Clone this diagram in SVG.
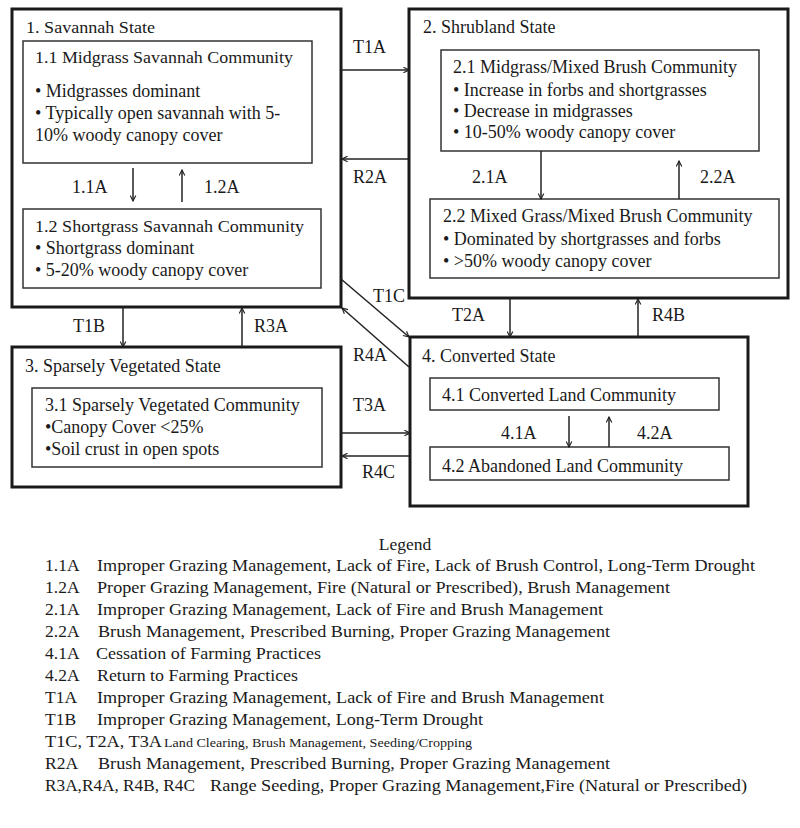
<svg xmlns="http://www.w3.org/2000/svg" width="800" height="828" viewBox="0 0 800 828">
<defs>
<marker id="ah" viewBox="0 0 10 10" refX="9" refY="5" markerWidth="7" markerHeight="7" markerUnits="userSpaceOnUse" orient="auto">
<path d="M1,1 L9,5 L1,9" fill="none" stroke="#222" stroke-width="1.6"/>
</marker>
</defs>
<style>
text{font-family:"Liberation Serif","Times New Roman",serif;fill:#1a1a1a}
.st{font-size:18px}
.st1{font-size:17.5px}
.c{font-size:18px}
.c1{font-size:17.5px}
.lb{font-size:18px}
.lg{font-size:17.5px}
.sm{font-size:13px}
.outer{fill:#fff;stroke:#1a1a1a;stroke-width:3}
.inner{fill:#fff;stroke:#333;stroke-width:1.5}
.con line{stroke:#222;stroke-width:1.5;marker-end:url(#ah)}
</style>
<rect width="800" height="828" fill="#fff"/>

<g id="state1">
<rect class="outer" x="12" y="9" width="329" height="298"/>
<text class="st1" x="26" y="33" textLength="129" lengthAdjust="spacingAndGlyphs">1. Savannah State</text>
</g>
<g id="c11">
<rect class="inner" x="23" y="41" width="289" height="122"/>
<text class="c1" x="35" y="63" textLength="258" lengthAdjust="spacingAndGlyphs">1.1 Midgrass Savannah Community</text>
<text class="c" x="35" y="97">• Midgrasses dominant</text>
<text class="c" x="35" y="119">• Typically open savannah with 5-</text>
<text class="c" x="35" y="141">10% woody canopy cover</text>
</g>
<g id="c12">
<rect class="inner" x="23" y="209" width="298" height="79"/>
<text class="c1" x="35" y="232" textLength="269" lengthAdjust="spacingAndGlyphs">1.2 Shortgrass Savannah Community</text>
<text class="c" x="35" y="254">• Shortgrass dominant</text>
<text class="c" x="35" y="276">• 5-20% woody canopy cover</text>
</g>

<g id="state2">
<rect class="outer" x="409" y="9" width="379" height="289"/>
<text class="st" x="423" y="33">2. Shrubland State</text>
</g>
<g id="c21">
<rect class="inner" x="441" y="50" width="318" height="101"/>
<text class="c" x="453" y="73">2.1 Midgrass/Mixed Brush Community</text>
<text class="c" x="453" y="96">• Increase in forbs and shortgrasses</text>
<text class="c" x="453" y="117">• Decrease in midgrasses</text>
<text class="c" x="453" y="138">• 10-50% woody canopy cover</text>
</g>
<g id="c22">
<rect class="inner" x="430" y="199" width="349" height="79"/>
<text class="c" x="443" y="222">2.2 Mixed Grass/Mixed Brush Community</text>
<text class="c" x="443" y="245">• Dominated by shortgrasses and forbs</text>
<text class="c" x="443" y="267">• &gt;50% woody canopy cover</text>
</g>

<g id="state3">
<rect class="outer" x="12" y="347" width="329" height="140"/>
<text class="st" x="25" y="372">3. Sparsely Vegetated State</text>
</g>
<g id="c31">
<rect class="inner" x="32" y="388" width="290" height="79"/>
<text class="c" x="45" y="411">3.1 Sparsely Vegetated Community</text>
<text class="c" x="45" y="433">•Canopy Cover &lt;25%</text>
<text class="c" x="45" y="455">•Soil crust in open spots</text>
</g>

<g id="state4">
<rect class="outer" x="410" y="337" width="338" height="169"/>
<text class="st" x="422" y="362">4. Converted State</text>
</g>
<g id="c41">
<rect class="inner" x="430" y="378" width="289" height="32"/>
<text class="c" x="442" y="401">4.1 Converted Land Community</text>
</g>
<g id="c42">
<rect class="inner" x="430" y="447" width="299" height="33"/>
<text class="c" x="442" y="472">4.2 Abandoned Land Community</text>
</g>

<g id="connectors" class="con">
<line x1="341" y1="70" x2="409" y2="70"/>
<line x1="409" y1="159" x2="342" y2="159"/>
<line x1="133" y1="168" x2="133" y2="201"/>
<line x1="182" y1="202" x2="182" y2="170"/>
<line x1="541" y1="151" x2="541" y2="199"/>
<line x1="679" y1="199" x2="679" y2="161"/>
<line x1="341" y1="279" x2="409" y2="337"/>
<line x1="409" y1="367" x2="342" y2="308"/>
<line x1="123" y1="307" x2="123" y2="347"/>
<line x1="242" y1="347" x2="242" y2="308"/>
<line x1="510" y1="298" x2="510" y2="337"/>
<line x1="638" y1="337" x2="638" y2="299"/>
<line x1="341" y1="433" x2="410" y2="433"/>
<line x1="410" y1="456" x2="342" y2="456"/>
<line x1="569" y1="416" x2="569" y2="447"/>
<line x1="609" y1="447" x2="609" y2="417"/>
</g>

<g id="connector-labels">
<text class="lb" x="353" y="53">T1A</text>
<text class="lb" x="353" y="183">R2A</text>
<text class="lb" x="72" y="193">1.1A</text>
<text class="lb" x="204" y="193">1.2A</text>
<text class="lb" x="472" y="183">2.1A</text>
<text class="lb" x="700" y="183">2.2A</text>
<text class="lb" x="373" y="302">T1C</text>
<text class="lb" x="353" y="361">R4A</text>
<text class="lb" x="73" y="332">T1B</text>
<text class="lb" x="254" y="332">R3A</text>
<text class="lb" x="452" y="321">T2A</text>
<text class="lb" x="652" y="321">R4B</text>
<text class="lb" x="353" y="411">T3A</text>
<text class="lb" x="362" y="478">R4C</text>
<text class="lb" x="501" y="439">4.1A</text>
<text class="lb" x="637" y="439">4.2A</text>
</g>

<g id="legend" class="lg">
<text class="lg" x="405" y="550" text-anchor="middle">Legend</text>
<text class="lg" x="45" y="571">1.1A</text>
<text class="lg" x="97" y="571" textLength="658" lengthAdjust="spacingAndGlyphs">Improper Grazing Management, Lack of Fire, Lack of Brush Control, Long-Term Drought</text>
<text class="lg" x="45" y="593">1.2A</text>
<text class="lg" x="97" y="593" textLength="573" lengthAdjust="spacingAndGlyphs">Proper Grazing Management, Fire (Natural or Prescribed), Brush Management</text>
<text class="lg" x="45" y="615">2.1A</text>
<text class="lg" x="97" y="615" textLength="506" lengthAdjust="spacingAndGlyphs">Improper Grazing Management, Lack of Fire and Brush Management</text>
<text class="lg" x="45" y="637">2.2A</text>
<text class="lg" x="98" y="637" textLength="512" lengthAdjust="spacingAndGlyphs">Brush Management, Prescribed Burning, Proper Grazing Management</text>
<text class="lg" x="45" y="659">4.1A</text>
<text class="lg" x="96" y="659" textLength="225" lengthAdjust="spacingAndGlyphs">Cessation of Farming Practices</text>
<text class="lg" x="45" y="681">4.2A</text>
<text class="lg" x="97" y="681" textLength="201" lengthAdjust="spacingAndGlyphs">Return to Farming Practices</text>
<text class="lg" x="45" y="703">T1A</text>
<text class="lg" x="97" y="703" textLength="507" lengthAdjust="spacingAndGlyphs">Improper Grazing Management, Lack of Fire and Brush Management</text>
<text class="lg" x="45" y="725">T1B</text>
<text class="lg" x="97" y="725" textLength="386" lengthAdjust="spacingAndGlyphs">Improper Grazing Management, Long-Term Drought</text>
<text class="lg" x="45" y="747" textLength="117" lengthAdjust="spacingAndGlyphs">T1C, T2A, T3A</text>
<text class="sm" x="164" y="747" textLength="308" lengthAdjust="spacingAndGlyphs">Land Clearing, Brush Management, Seeding/Cropping</text>
<text class="lg" x="45" y="769">R2A</text>
<text class="lg" x="98" y="769" textLength="512" lengthAdjust="spacingAndGlyphs">Brush Management, Prescribed Burning, Proper Grazing Management</text>
<text class="lg" x="45" y="791" textLength="150" lengthAdjust="spacingAndGlyphs">R3A,R4A, R4B, R4C</text>
<text class="lg" x="210" y="791" textLength="537" lengthAdjust="spacingAndGlyphs">Range Seeding, Proper Grazing Management,Fire (Natural or Prescribed)</text>
</g>
</svg>
